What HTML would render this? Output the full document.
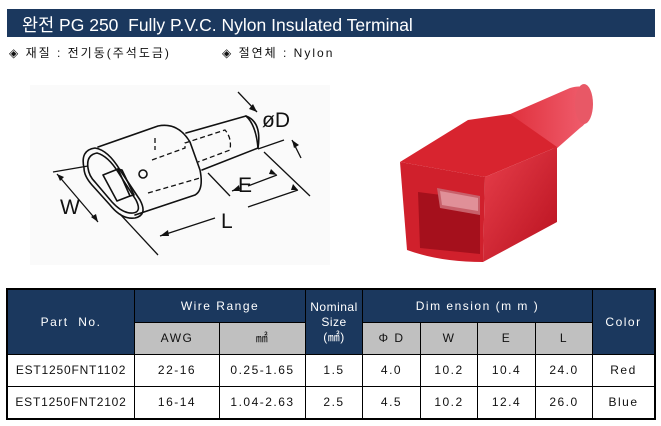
<!DOCTYPE html>
<html><head><meta charset="utf-8"><style>
body{margin:0;width:661px;height:426px;background:#fff;position:relative;overflow:hidden;font-family:"Liberation Sans","Noto Sans CJK KR",sans-serif}
.a{position:absolute}
.c{position:absolute;box-sizing:border-box;display:flex;align-items:center;justify-content:center;text-align:center;font-size:12px;letter-spacing:1.5px;line-height:15px}
.h{background:#1b385e;color:#fff}
.g{background:#c0c0c0;color:#111}
.w{background:#fff;color:#111}
</style></head><body>
<div class="a" style="left:7px;top:9px;width:648px;height:28px;background:#1b385e"></div>
<div class="a" style="left:22px;top:12px;color:#fff;font-size:17.5px;letter-spacing:0px;white-space:pre">완전 PG 250  Fully P.V.C. Nylon Insulated Terminal</div>
<div class="a" style="left:9px;top:44px;font-size:12px;letter-spacing:2px;color:#111">◈ 재질 : 전기동(주석도금)</div>
<div class="a" style="left:222px;top:44px;font-size:12px;letter-spacing:2px;color:#111">◈ 절연체 : Nylon</div>

<svg class="a" style="left:0;top:0" width="661" height="280" viewBox="0 0 661 280">
<rect x="30" y="85" width="300" height="180" fill="#fafafa"/>
<g fill="none" stroke="#111" stroke-width="1.6" stroke-linejoin="round" stroke-linecap="round">
<path d="M98 147 L158 126 Q178 122 190 142 L200 170 Q204 190 195 195 L135 215"/>
<path d="M84 168 Q80 150 95 148 Q108 150 120 170 L140 200 Q148 215 135 218 Q122 220 110 205 L92 185 Q84 176 84 168 Z"/>
<path d="M88 168 Q86 155 97 153 Q108 156 118 172 L136 200 Q142 212 133 213 Q123 214 112 202 L95 182 Q89 176 88 168 Z"/>
<path d="M103 175 L118 169 L130 196 L117 201 Z"/>
<path d="M118 169 L122 170 L134 195 L130 196"/>
<circle cx="143" cy="174" r="4"/>
<path d="M186 133 L246 116 Q256 125 258 148 L202 170"/>
<path d="M246 116 Q262 122 258 148"/>
</g>
<g fill="none" stroke="#111" stroke-width="1.3" stroke-dasharray="5 3">
<path d="M152 160 L185 148 L185 143 L225 130 Q232 138 230 150 L198 162"/>
<path d="M148 193 L200 178"/>
<path d="M155 138 L155 150"/>
</g>
<g fill="none" stroke="#111" stroke-width="1.3">
<path d="M238 92 L257 112"/><path d="M292 140 L301 158"/>
<path d="M258 149 L284 140"/>
<path d="M264 152 L310 196"/><path d="M208 173 L230 196"/>
<path d="M120 214 L158 255"/><path d="M53 172 L88 166"/>
<path d="M57 174 L98 222"/>
<path d="M160 236 L215 218"/><path d="M248 207 L298 190"/>
<path d="M232 191 L240 188"/><path d="M248 186 L277 175"/>
</g>
<g fill="#111">
<path d="M257 112 l-8 -3 l4 -5 z"/><path d="M292 140 l2 8 l5 -3 z"/>
<path d="M57 174 l7 3 l-4 4 z"/><path d="M98 222 l-2 -8 l-5 3 z"/>
<path d="M160 236 l8 -6 l1 6 z"/><path d="M298 190 l-7 0 l2 -6 z"/>
<path d="M232 191 l7 -6 l1 6 z"/><path d="M277 175 l-8 -1 l2 -5 z"/>
</g>
<g font-family="Liberation Sans,sans-serif" font-size="21" fill="#111">
<text x="262" y="127">øD</text><text x="238" y="192">E</text>
<text x="60" y="214">W</text><text x="221" y="228">L</text>
</g>
<defs>
<linearGradient id="r1" x1="0" y1="0" x2="1" y2="1"><stop offset="0" stop-color="#e8404c"/><stop offset="1" stop-color="#b8101e"/></linearGradient>
<linearGradient id="r2" x1="0" y1="0" x2="1" y2="0"><stop offset="0" stop-color="#e0303c"/><stop offset="1" stop-color="#f06070"/></linearGradient>
</defs>
<path d="M508 115 L570 88 Q590 82 592 100 Q592 120 580 128 L555 150 Z" fill="url(#r2)"/>
<ellipse cx="584" cy="104" rx="9" ry="20" fill="#e85866"/>
<path d="M400 162 L468 120 L510 114 L557 147 L485 177 Z" fill="#d8242f"/>
<path d="M485 177 L557 147 L557 222 L483 262 Z" fill="url(#r1)"/>
<path d="M400 162 L485 177 L483 262 Q440 262 407 250 Z" fill="#d0202c"/>
<path d="M418 192 L480 200 L480 254 L420 248 Z" fill="#a5101c"/>
<path d="M437 188 L480 196 L480 215 L440 208 Z" fill="#c8606a"/>
<path d="M440 191 L478 198 L478 211 L442 205 Z" fill="#e09098"/>
</svg>

<div class="a" style="left:6px;top:288px;width:650px;height:132px;background:#000"></div>
<div class="c h" style="left:8px;top:290px;width:126px;height:64px">Part&nbsp; No.</div>
<div class="c h" style="left:135px;top:290px;width:170px;height:32px">Wire Range</div>
<div class="c g" style="left:135px;top:323px;width:84px;height:31px">AWG</div>
<div class="c g" style="left:220px;top:323px;width:85px;height:31px">㎟</div>
<div class="c h" style="left:306px;top:290px;width:56px;height:64px;letter-spacing:0.5px">Nominal<br>Size<br>(㎟)</div>
<div class="c h" style="left:363px;top:290px;width:229px;height:32px">Dim ension (m m )</div>
<div class="c g" style="left:363px;top:323px;width:57px;height:31px">Φ D</div>
<div class="c g" style="left:421px;top:323px;width:56px;height:31px">W</div>
<div class="c g" style="left:478px;top:323px;width:57px;height:31px">E</div>
<div class="c g" style="left:536px;top:323px;width:56px;height:31px">L</div>
<div class="c h" style="left:593px;top:290px;width:61px;height:64px">Color</div>

<div class="c w" style="left:8px;top:355px;width:126px;height:31px;letter-spacing:0.8px">EST1250FNT1102</div>
<div class="c w" style="left:135px;top:355px;width:84px;height:31px">22-16</div>
<div class="c w" style="left:220px;top:355px;width:85px;height:31px">0.25-1.65</div>
<div class="c w" style="left:306px;top:355px;width:56px;height:31px">1.5</div>
<div class="c w" style="left:363px;top:355px;width:57px;height:31px">4.0</div>
<div class="c w" style="left:421px;top:355px;width:56px;height:31px">10.2</div>
<div class="c w" style="left:478px;top:355px;width:57px;height:31px">10.4</div>
<div class="c w" style="left:536px;top:355px;width:56px;height:31px">24.0</div>
<div class="c w" style="left:593px;top:355px;width:61px;height:31px">Red</div>

<div class="c w" style="left:8px;top:387px;width:126px;height:31px;letter-spacing:0.8px">EST1250FNT2102</div>
<div class="c w" style="left:135px;top:387px;width:84px;height:31px">16-14</div>
<div class="c w" style="left:220px;top:387px;width:85px;height:31px">1.04-2.63</div>
<div class="c w" style="left:306px;top:387px;width:56px;height:31px">2.5</div>
<div class="c w" style="left:363px;top:387px;width:57px;height:31px">4.5</div>
<div class="c w" style="left:421px;top:387px;width:56px;height:31px">10.2</div>
<div class="c w" style="left:478px;top:387px;width:57px;height:31px">12.4</div>
<div class="c w" style="left:536px;top:387px;width:56px;height:31px">26.0</div>
<div class="c w" style="left:593px;top:387px;width:61px;height:31px">Blue</div>
</body></html>
